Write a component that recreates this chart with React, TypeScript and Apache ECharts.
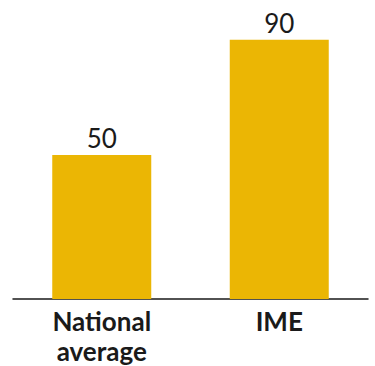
import React, { useEffect, useRef } from "react";
import * as echarts from "echarts";

const categories = ["National\naverage", "IME"];
const values = [50, 90];

export default function App() {
  const ref = useRef<HTMLDivElement>(null);
  useEffect(() => {
    if (!ref.current) return;
    const chart = echarts.init(ref.current, null, { renderer: "svg" });
    chart.setOption({
      animation: false,
      grid: { left: 13, right: 7, top: 11, bottom: 65, containLabel: false },
      xAxis: {
        type: "category",
        data: categories,
        axisLine: { show: true, lineStyle: { color: "#1a1a1a", width: 1.5 } },
        axisTick: { show: false },
        axisLabel: {
          color: "#1a1a1a",
          fontFamily: "Lato",
          fontWeight: "bold",
          fontSize: 26,
          lineHeight: 30,
          margin: 7,
        },
      },
      yAxis: {
        type: "value",
        min: 0,
        max: 100,
        show: false,
        splitLine: { show: false },
      },
      series: [
        {
          type: "bar",
          data: values,
          barWidth: 99,
          itemStyle: { color: "#EBB604" },
          label: {
            show: true,
            position: "top",
            distance: 4,
            color: "#1a1a1a",
            fontFamily: "Lato",
            fontSize: 26,
          },
        },
      ],
    });
    return () => chart.dispose();
  }, []);
  return <div ref={ref} style={{ width: 375, height: 366, position: "absolute", left: 0, top: 0 }} />;
}
